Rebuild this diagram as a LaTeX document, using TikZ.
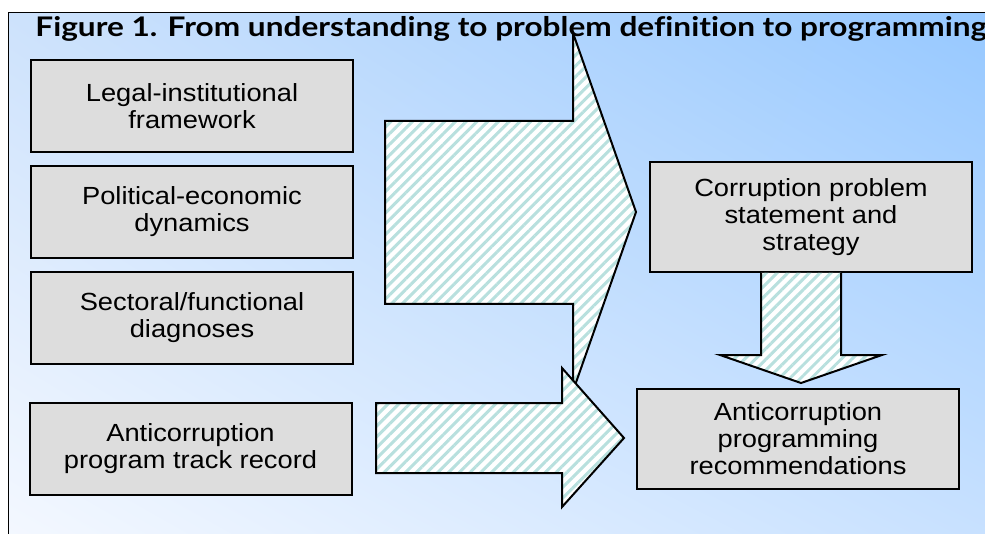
\documentclass[tikz,border=0pt]{standalone}
\usepackage{fontspec}
\setmainfont{Liberation Sans}
\newfontfamily\boxfont[FakeStretch=1.1]{Liberation Sans}
\newfontfamily\titlefont[FakeStretch=1.17, Ligatures=NoCommon]{Lato}
\usepackage{tikz}
\usetikzlibrary{positioning,patterns.meta,calc,shadings}
\definecolor{bgll}{RGB}{244,248,255}
\definecolor{bgul}{RGB}{205,226,252}
\definecolor{bglr}{RGB}{200,225,255}
\definecolor{bgur}{RGB}{150,200,255}
\definecolor{boxgray}{RGB}{221,221,221}
\definecolor{stripe}{RGB}{184,224,222}

\begin{document}
\begin{tikzpicture}[
  x=0.5pt, y=-0.5pt,
  node distance=6pt,
  box/.style={draw, line width=1pt, fill=boxgray, align=center, inner sep=0pt,
              minimum width=161pt, minimum height=46pt,
              font=\boxfont\fontsize{12.4}{13.5}\selectfont},
  blockarrow/.style={draw, line width=1pt, preaction={fill=white},
                     pattern={Lines[angle=45, distance=3.8pt, line width=1.5pt]},
                     pattern color=stripe}
]
\useasboundingbox (0,0) rectangle (985,534);
\clip (0,0) rectangle (985,534);
\shade[upper left=bgul, upper right=bgur, lower left=bgll, lower right=bglr]
  (8.5,12.5) rectangle (990,540);
\draw[line width=0.8pt] (8.5,540) |- (990,12.5);
\draw[blockarrow] (385,121) -- (573,121) -- (573,33) -- (636,212) -- (573,391)
  -- (573,304) -- (385,304) -- cycle;
\draw[blockarrow] (376,403) -- (562,403) -- (562,368) -- (624,438) -- (562,507)
  -- (562,473) -- (376,473) -- cycle;
\node[box] (legal) at (192,106) {Legal-institutional\\framework};
\node[box, below=of legal] (polit) {Political-economic\\dynamics};
\node[box, below=of polit] (sect) {Sectoral/functional\\diagnoses};
\node[box] (track) at (190.5,449) {Anticorruption\\program track record};
\node[box, minimum height=55pt] (stmt) at (811,217) {Corruption problem\\statement and\\strategy};
\node[box, minimum height=50pt] (recom) at (798,439) {Anticorruption\\programming\\recommendations};
\draw[blockarrow] ($(stmt.south)+(-50,0)$) -- (761,355) -- (720,355) -- (801,383)
  -- (882,355) -- (841,355) -- ($(stmt.south)+(30,0)$);
\node[anchor=base west, inner sep=0pt, font=\titlefont\bfseries\fontsize{13.5}{15}\selectfont]
  (title) at (35,37) {Figure 1. From understanding to problem definition to programming};
\end{tikzpicture}
\end{document}
